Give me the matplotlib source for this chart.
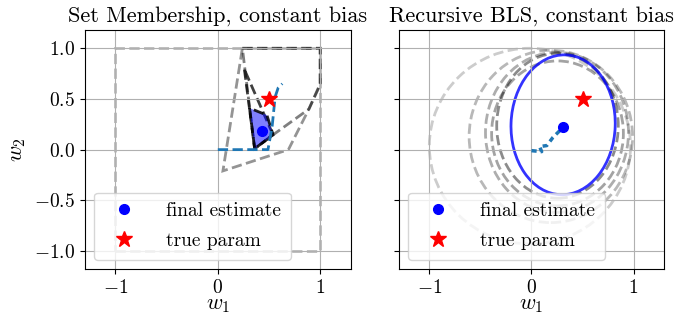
import numpy as np
import matplotlib
matplotlib.use('Agg')
import matplotlib.pyplot as plt
from matplotlib.patches import Polygon, Ellipse

plt.rcParams['font.family'] = ['cmr10', 'DejaVu Serif']
plt.rcParams['mathtext.fontset'] = 'cm'
plt.rcParams['axes.formatter.use_mathtext'] = True
plt.rcParams['axes.unicode_minus'] = True

# --- данные: множества (set membership), от первого к последнему
box_set = [(-1, -1), (1, -1), (1, 1), (-1, 1)]
sm_set2 = [(0.24, 1.0), (1.0, 1.0), (1.0, 0.65), (0.89, 0.40), (0.69, 0.0), (0.05, -0.21)]
sm_set3 = [(0.24, 1.0), (1.0, 1.0), (1.0, 0.64), (0.89, 0.40), (0.54, 0.146), (0.36, 0.01)]
sm_set4 = [(0.26, 0.79), (0.36, 0.01), (0.54, 0.146)]
sm_final = [(0.31, 0.41), (0.36, 0.01), (0.54, 0.146), (0.48, 0.34)]
sm_sets = [box_set, sm_set2, sm_set3, sm_set4]
sm_alphas = [0.28, 0.42, 0.5, 0.75]

sm_traj_w1 = [0.0, 0.49, 0.53, 0.56, 0.59, 0.63]
sm_traj_w2 = [0.0, 0.0, 0.22, 0.52, 0.61, 0.65]
sm_est = (0.43, 0.18)

# --- данные: рекурсивный BLS, эллипсы (центр, ширина, высота)
ell_cx = [-0.015, 0.19, 0.25, 0.255, 0.255]
ell_cy = [0.035, 0.13, 0.17, 0.16, 0.235]
ell_w = [1.97, 1.60, 1.40, 1.29, 1.19]
ell_h = [1.93, 1.70, 1.58, 1.43, 1.43]
ell_alpha = [0.2, 0.28, 0.32, 0.36, 0.45]
final_ell = dict(cx=0.31, cy=0.245, w=1.02, h=1.38, angle=-2)

bls_traj_w1 = [0.0, 0.10, 0.08, 0.15, 0.21, 0.26, 0.31]
bls_traj_w2 = [-0.01, -0.02, 0.03, 0.04, 0.12, 0.17, 0.22]
bls_est = (0.31, 0.22)

true_param = (0.5, 0.5)

fig = plt.figure(figsize=(6.78, 3.16), dpi=100)
ax1 = fig.add_axes([0.125, 0.148, 0.3925, 0.757])
ax2 = fig.add_axes([0.588, 0.148, 0.3917, 0.757], sharey=ax1)

# левый график
for pts, a in zip(sm_sets, sm_alphas):
    ax1.add_patch(Polygon(pts, closed=True, fill=False, ls='--', lw=2,
                          edgecolor='k', alpha=a))
ax1.add_patch(Polygon(sm_final, closed=True, facecolor='blue', alpha=0.5, lw=0))
ax1.add_patch(Polygon(sm_final, closed=True, fill=False, ls='--', lw=2, edgecolor='k', alpha=0.85))
ax1.plot(sm_traj_w1, sm_traj_w2, '--', color='tab:blue', lw=2)
ax1.plot(*sm_est, 'o', color='blue', ms=7, label='final estimate')
ax1.plot(*true_param, '*', color='red', ms=12, label='true param')
ax1.set_title('Set Membership, constant bias', fontsize=16)

# правый график
for cx, cy, w, h, a in zip(ell_cx, ell_cy, ell_w, ell_h, ell_alpha):
    ax2.add_patch(Ellipse((cx, cy), w, h, fill=False, ls='--', lw=2,
                          edgecolor='k', alpha=a))
ax2.add_patch(Ellipse((final_ell['cx'], final_ell['cy']), final_ell['w'], final_ell['h'],
                      angle=final_ell['angle'], fill=False, lw=2, edgecolor='blue', alpha=0.8))
ax2.plot(bls_traj_w1, bls_traj_w2, '--', color='tab:blue', lw=2.5, dashes=(1.5, 1.2))
ax2.plot(*bls_est, 'o', color='blue', ms=7, label='final estimate')
ax2.plot(*true_param, '*', color='red', ms=12, label='true param')
ax2.set_title('Recursive BLS, constant bias', fontsize=16)

for ax in (ax1, ax2):
    ax.set_xlim(-1.3, 1.3)
    ax.set_ylim(-1.18, 1.18)
    ax.set_xticks([-1, 0, 1])
    ax.set_yticks([-1.0, -0.5, 0.0, 0.5, 1.0])
    ax.grid(True)
    ax.set_xlabel('$w_1$', fontsize=16, labelpad=-1)
    ax.tick_params(labelsize=14)
    ax.legend(loc='lower left', fontsize=14, handletextpad=1.2, labelspacing=0.6,
              borderpad=0.5)

ax1.set_ylabel('$w_2$', fontsize=16)
ax1.yaxis.set_major_formatter(matplotlib.ticker.FormatStrFormatter('$%.1f$'))
plt.setp(ax2.get_yticklabels(), visible=False)

fig.savefig('out.png', dpi=100)
